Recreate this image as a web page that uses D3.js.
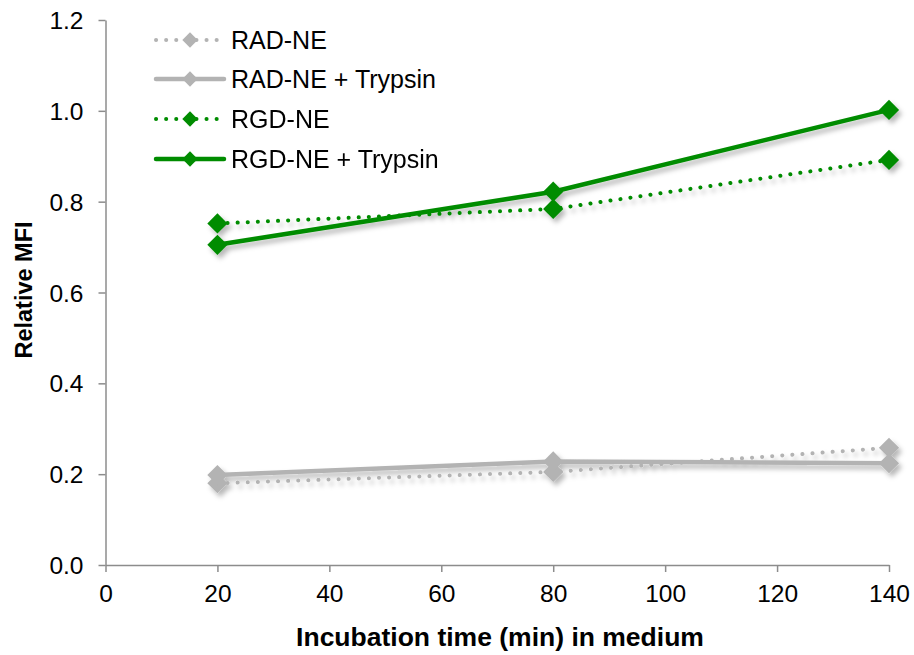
<!DOCTYPE html>
<html><head><meta charset="utf-8">
<script src="https://cdn.jsdelivr.net/npm/d3@7"></script>
<style>body{margin:0;background:#fff}svg{display:block}</style>
</head><body>
<svg id="c" width="914" height="655"></svg>
<script>
const times = [20, 80, 140];
const radNE = [0.180, 0.205, 0.258];
const radNETrypsin = [0.198, 0.228, 0.224];
const rgdNE = [0.752, 0.784, 0.892];
const rgdNETrypsin = [0.705, 0.822, 1.002];
const seriesNames = ["RAD-NE", "RAD-NE + Trypsin", "RGD-NE", "RGD-NE + Trypsin"];
const xTicks = [0, 20, 40, 60, 80, 100, 120, 140];
const yTicks = [0, 0.2, 0.4, 0.6, 0.8, 1.0, 1.2];

const gray = "#b3b3b3", green = "#008c00";
const series = [
  {name: seriesNames[0], vals: radNE, color: gray, dotted: true},
  {name: seriesNames[1], vals: radNETrypsin, color: gray, dotted: false},
  {name: seriesNames[2], vals: rgdNE, color: green, dotted: true},
  {name: seriesNames[3], vals: rgdNETrypsin, color: green, dotted: false}
];

const svg = d3.select("#c");
const defs = svg.append("defs");
const f = defs.append("filter").attr("id","sh").attr("x","-20%").attr("y","-50%").attr("width","140%").attr("height","200%");
f.append("feDropShadow").attr("dx",3).attr("dy",4).attr("stdDeviation",2.5).attr("flood-color","#000").attr("flood-opacity",0.28);

const x = d3.scaleLinear().domain([0,140]).range([105.5, 889]);
const y = d3.scaleLinear().domain([0,1.2]).range([565, 20]);
const font = "'Liberation Sans', Arial, sans-serif";

const ax = svg.append("g").attr("transform","translate(0,565)")
  .call(d3.axisBottom(x).tickValues(xTicks).tickFormat(d3.format("d")).tickSizeInner(7).tickSizeOuter(0).tickPadding(10));
const ay = svg.append("g").attr("transform","translate(105.5,0)")
  .call(d3.axisLeft(y).tickValues(yTicks).tickFormat(d3.format(".1f")).tickSizeInner(7).tickSizeOuter(0).tickPadding(15));
[ax, ay].forEach(g => {
  g.select(".domain").attr("stroke","#8c8c8c").attr("stroke-width",1.5);
  g.selectAll(".tick line").attr("stroke","#8c8c8c").attr("stroke-width",1.5);
  g.selectAll("text").attr("font-family",font).attr("font-size",24.5).attr("fill","#000");
});
ax.selectAll("text").attr("dy","0.8em");
ay.selectAll("text").attr("dy","0.35em");

svg.append("text").attr("x", 500).attr("y", 646).attr("text-anchor","middle")
  .attr("font-family",font).attr("font-size",26.5).attr("font-weight","bold").text("Incubation time (min) in medium");
svg.append("text").attr("transform","translate(32,290) rotate(-90)").attr("text-anchor","middle")
  .attr("font-family",font).attr("font-size",23.5).attr("font-weight","bold").text("Relative MFI");

const line = d3.line().x((d,i)=>x(times[i])).y(d=>y(d));
const diamond = d3.symbol().type(d3.symbolDiamond2);

const plot = svg.append("g").attr("filter","url(#sh)");
series.forEach(s => {
  plot.append("path").attr("d", line(s.vals)).attr("fill","none").attr("stroke", s.color)
    .attr("stroke-width", s.dotted ? 4 : 4.5).attr("stroke-linecap", s.dotted ? "round" : "butt")
    .attr("stroke-dasharray", s.dotted ? "0.1 10" : null);
  plot.selectAll(null).data(s.vals).enter().append("path")
    .attr("d", diamond.size(260)()).attr("fill", s.color)
    .attr("transform",(d,i)=>`translate(${x(times[i])},${y(d)})`);
});

// legend
const legY = [40, 79, 119, 159];
series.forEach((s,i) => {
  const g = svg.append("g").attr("transform",`translate(0,${legY[i]})`);
  g.append("line").attr("x1",156).attr("x2", s.dotted?222:224).attr("y1",0).attr("y2",0)
    .attr("stroke", s.color).attr("stroke-width", s.dotted?4:4.5)
    .attr("stroke-linecap","round").attr("stroke-dasharray", s.dotted?"0.1 10":null);
  g.append("path").attr("d", diamond.size(150)()).attr("fill", s.color).attr("transform","translate(190,0)");
  g.append("text").attr("x",231).attr("y",0).attr("dy","0.36em").attr("font-family",font).attr("font-size",25)
    .attr("fill","#000").text(s.name);
});
</script>
</body></html>
